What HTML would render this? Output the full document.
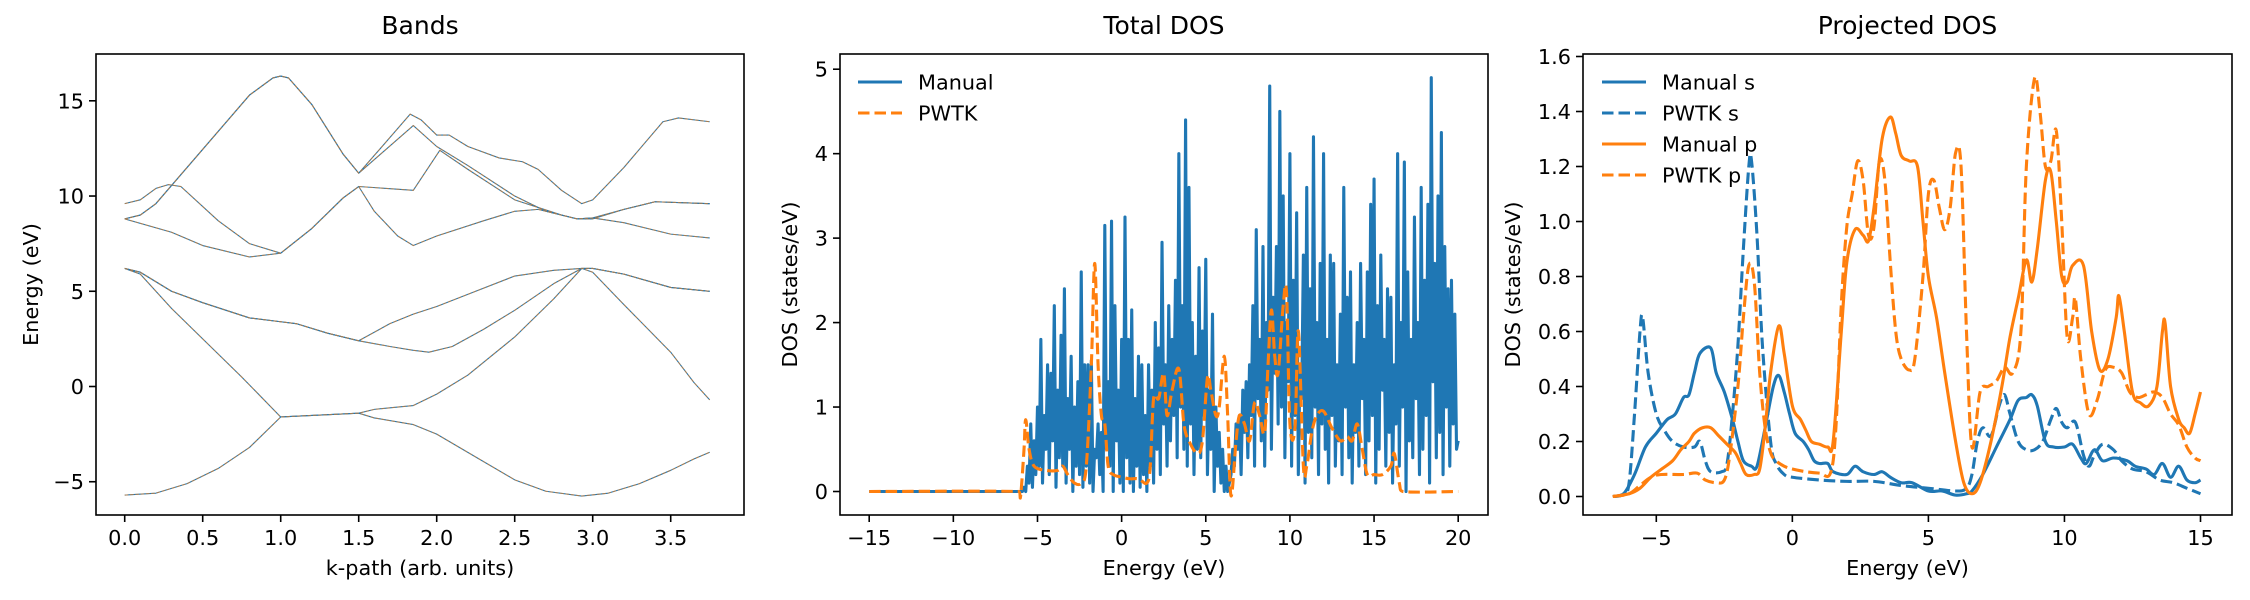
<!DOCTYPE html>
<html><head><meta charset="utf-8"><style>
body{margin:0;background:#fff;}
svg{display:block;font-family:"DejaVu Sans","Liberation Sans",sans-serif;}
</style></head><body>
<svg id="fig" width="2250" height="600" viewBox="0 0 2250 600" xmlns="http://www.w3.org/2000/svg"></svg>
<script>
// ---------- Band structure data ----------
const bandK1=[0,0.2,0.4,0.6,0.8,0.95,1.0,1.5,1.6,1.85,2.0,2.25,2.5,2.7,2.93,3.1,3.3,3.5,3.65,3.75];
const bandE1=[-5.7,-5.6,-5.1,-4.3,-3.2,-2.0,-1.6,-1.4,-1.65,-2.0,-2.5,-3.7,-4.9,-5.5,-5.75,-5.6,-5.1,-4.4,-3.8,-3.45];
const bandK2=[0,0.1,0.3,0.5,0.75,1.0,1.5,1.6,1.85,2.0,2.2,2.5,2.75,2.93,3.0,3.2,3.5,3.65,3.75];
const bandE2=[6.2,5.9,4.1,2.5,0.5,-1.6,-1.4,-1.2,-1.0,-0.4,0.6,2.6,4.6,6.2,6.0,4.3,1.8,0.2,-0.7];
const bandK3=[0,0.1,0.3,0.5,0.8,1.0,1.1,1.3,1.5,1.7,1.85,1.95,2.1,2.3,2.5,2.75,2.93,3.0,3.2,3.5,3.75];
const bandE3=[6.2,6.0,5.0,4.4,3.6,3.4,3.3,2.8,2.4,2.1,1.9,1.8,2.1,3.0,4.0,5.4,6.2,6.2,5.9,5.2,5.0];
const bandK4=[0,0.1,0.3,0.5,0.8,1.0,1.1,1.3,1.5,1.7,1.85,2.0,2.25,2.5,2.75,2.93,3.0,3.2,3.5,3.75];
const bandE4=[6.2,6.0,5.0,4.4,3.6,3.4,3.3,2.8,2.4,3.3,3.8,4.2,5.0,5.8,6.1,6.2,6.2,5.9,5.2,5.0];
const bandK5=[0,0.1,0.2,0.8,0.95,1.0,1.05,1.2,1.4,1.5,1.65,1.83,1.9,2.0,2.08,2.2,2.4,2.55,2.65,2.8,2.93,3.0,3.2,3.45,3.55,3.75];
const bandE5=[8.8,9.0,9.6,15.3,16.2,16.3,16.2,14.8,12.2,11.2,12.6,14.3,14.0,13.2,13.2,12.6,12.0,11.8,11.4,10.3,9.6,9.8,11.5,13.9,14.1,13.9];
const bandK6=[0,0.1,0.2,0.8,0.95,1.0,1.05,1.2,1.4,1.5,1.85,2.0,2.2,2.5,2.7,2.9,3.0,3.2,3.4,3.75];
const bandE6=[8.8,9.0,9.6,15.3,16.2,16.3,16.2,14.8,12.2,11.2,13.7,12.6,11.6,10.0,9.2,8.8,8.8,9.3,9.7,9.6];
const bandK7=[0,0.1,0.2,0.28,0.36,0.6,0.8,1.0,1.2,1.4,1.5,1.85,2.02,2.2,2.5,2.8,2.9,3.0,3.2,3.5,3.75];
const bandE7=[9.6,9.8,10.4,10.6,10.5,8.7,7.5,7.0,8.3,9.9,10.5,10.3,12.4,11.4,9.8,9.0,8.8,8.85,8.6,8.0,7.8];
const bandK8=[0,0.3,0.5,0.8,1.0,1.2,1.4,1.5,1.6,1.75,1.85,2.0,2.3,2.5,2.65,2.9,3.0,3.2,3.4,3.75];
const bandE8=[8.8,8.1,7.4,6.8,7.0,8.3,9.9,10.5,9.2,7.9,7.4,7.9,8.7,9.2,9.3,8.8,8.85,9.3,9.7,9.6];
const bandsK=[bandK1,bandK2,bandK3,bandK4,bandK5,bandK6,bandK7,bandK8];
const bandsE=[bandE1,bandE2,bandE3,bandE4,bandE5,bandE6,bandE7,bandE8];
const bandXTicks=[0,0.5,1.0,1.5,2.0,2.5,3.0,3.5];
const bandYTicks=[-5,0,5,10,15];

// ---------- Total DOS data ----------
const dosStart=-6.0, dosStep=0.2;
const dosHi=[0,0.05,0.3,0.8,0.6,1.0,1.8,0.9,1.5,1.4,2.2,1.2,1.85,2.4,1.1,1.6,1.0,1.3,2.6,1.5,1.5,1.55,0.5,0.8,0.7,3.15,1.3,3.2,2.2,1.2,1.8,3.25,1.8,2.15,1.1,1.6,1.5,0.9,1.5,1.2,2.0,1.7,2.95,1.5,2.2,1.8,2.5,4.0,2.2,4.4,3.6,2.0,1.6,2.65,1.9,2.75,1.2,2.1,1.0,0.7,0.5,0.3,0.1,0.5,0.8,0.9,1.2,1.3,1.5,2.2,3.1,1.8,2.9,2.0,4.8,2.3,2.9,4.5,3.5,2.0,4.0,2.5,3.3,1.5,2.8,3.6,2.4,4.2,2.0,2.7,4.0,1.8,2.8,2.7,1.5,2.1,3.6,2.3,2.6,1.5,2.0,2.7,1.8,2.6,3.4,3.7,2.2,2.8,1.8,2.4,2.3,1.5,4.0,2.0,3.9,2.6,1.8,3.25,2.0,3.6,2.5,3.4,4.9,2.7,3.5,4.25,2.9,2.4,2.5,2.1,0.6];
const dosLo=[0,0,0.1,0.05,0.2,
0.3,0.1,0.5,0.2,0.6,0.05,0.4,0.3,0.1,0.5,0.0,0.3,0.2,0.05,0.3,
0.1,0.0,0.4,0.2,0.0,0.5,0.3,0.0,0.6,0.1,
0.0,0.4,0.1,0.0,0.3,0.05,0.2,0.0,0.3,0.1,
0.5,0.2,0.8,0.3,0.6,0.9,0.4,1.0,0.5,0.3,0.8,0.2,0.5,0.4,0.9,
0.2,0.5,0.0,0.3,0.1,0.0,0.0,0.2,0.3,0.5,
0.2,0.7,0.4,0.9,0.3,1.1,0.6,0.3,1.2,0.5,1.4,0.8,1.0,0.4,1.3,
0.3,0.9,0.2,1.1,0.1,0.7,0.4,1.0,0.2,0.8,0.5,0.1,0.9,0.3,0.6,
0.2,1.0,0.4,0.1,0.7,0.3,1.1,0.2,0.6,0.9,0.1,0.5,1.2,0.3,0.7,
0.1,0.8,0.3,1.0,0.0,0.6,0.4,1.1,0.2,0.5,0.9,0.1,1.3,0.4,0.7,0.2,1.0,0.3,0.8,0.5];
const pwtkE=[-15,-6.1,-6.0,-5.8,-5.7,-5.5,-5.2,-4.5,-3.8,-3.5,-3.2,-2.8,-2.4,-2.1,-1.8,-1.6,-1.4,-1.2,-1.0,-0.8,-0.5,0,0.5,1.0,1.5,1.7,1.9,2.2,2.5,2.7,3.0,3.4,3.7,4.0,4.5,4.8,5.1,5.3,5.6,5.8,6.1,6.3,6.5,6.8,7.0,7.3,7.6,7.9,8.2,8.5,8.7,8.9,9.1,9.3,9.6,9.8,10.0,10.3,10.5,10.8,11.0,11.3,11.6,12.0,12.5,13.0,13.4,13.7,14.0,14.3,14.6,15.0,15.5,16.0,16.2,16.5,16.7,20];
const pwtkD=[0,0,-0.05,0.5,0.85,0.5,0.3,0.25,0.25,0.3,0.2,0.1,0.1,0.3,1.5,2.7,1.5,0.9,0.8,0.3,0.2,0.17,0.15,0.15,0.1,0.3,1.1,1.1,1.4,0.9,1.2,1.45,0.8,0.6,0.45,0.6,1.35,1.2,0.9,1.0,1.6,0.9,-0.05,0.6,0.9,0.8,0.6,1.05,0.9,0.7,1.5,2.15,1.6,1.4,2.2,2.35,0.8,0.75,1.9,0.3,0.3,0.7,0.9,0.95,0.75,0.6,0.65,0.6,0.8,0.5,0.2,0.2,0.2,0.3,0.45,0.1,0,0];
const dosXTicks=[-15,-10,-5,0,5,10,15,20];
const dosYTicks=[0,1,2,3,4,5];

// ---------- Projected DOS data ----------
const msE=[-6.6,-6.2,-5.8,-5.4,-5.0,-4.6,-4.3,-4.0,-3.8,-3.6,-3.4,-3.0,-2.8,-2.5,-2.2,-2.0,-1.8,-1.5,-1.3,-1.0,-0.7,-0.5,-0.3,-0.1,0.1,0.4,0.6,0.8,1.0,1.3,1.5,2.0,2.3,2.6,3.0,3.3,3.6,4.0,4.4,5.0,5.5,6.0,6.4,6.6,7.0,7.5,8.0,8.3,8.6,8.8,9.0,9.3,9.6,10.0,10.3,10.6,10.8,11.1,11.4,11.8,12.3,12.6,13.0,13.3,13.6,13.9,14.2,14.5,14.8,15.0];
const msD=[0,0.01,0.08,0.18,0.23,0.28,0.3,0.36,0.37,0.45,0.52,0.54,0.45,0.38,0.28,0.2,0.13,0.11,0.11,0.25,0.4,0.44,0.38,0.3,0.23,0.2,0.17,0.13,0.12,0.12,0.09,0.08,0.11,0.09,0.08,0.09,0.07,0.05,0.05,0.02,0.02,0.005,0.01,0.02,0.08,0.18,0.28,0.35,0.36,0.37,0.33,0.2,0.18,0.18,0.19,0.14,0.12,0.17,0.13,0.14,0.13,0.11,0.1,0.08,0.12,0.07,0.11,0.06,0.05,0.06];
const psE=[-6.6,-6.2,-6.0,-5.8,-5.6,-5.5,-5.3,-5.0,-4.7,-4.4,-4.0,-3.6,-3.4,-3.2,-3.0,-2.6,-2.4,-2.2,-2.0,-1.8,-1.6,-1.5,-1.3,-1.1,-0.8,-0.6,-0.3,0,1,2,3,4,5,6,6.4,6.6,6.8,7.0,7.3,7.6,7.8,8.0,8.3,8.6,8.9,9.2,9.5,9.7,9.9,10.1,10.4,10.7,10.9,11.1,11.4,11.8,12.1,12.5,13.0,13.5,14.0,14.5,15.0];
const psD=[0,0.01,0.05,0.3,0.6,0.65,0.45,0.3,0.24,0.2,0.18,0.18,0.2,0.13,0.09,0.09,0.12,0.3,0.55,0.9,1.2,1.22,0.95,0.55,0.2,0.12,0.08,0.07,0.06,0.055,0.055,0.04,0.03,0.02,0.03,0.08,0.2,0.25,0.22,0.33,0.37,0.3,0.2,0.17,0.17,0.2,0.28,0.32,0.27,0.25,0.27,0.15,0.11,0.15,0.19,0.17,0.13,0.1,0.09,0.06,0.05,0.03,0.01];
const mpE=[-6.6,-6.0,-5.6,-5.2,-4.8,-4.4,-4.1,-3.8,-3.6,-3.3,-3.0,-2.7,-2.4,-2.1,-1.9,-1.7,-1.4,-1.2,-1.0,-0.8,-0.5,-0.3,0,0.3,0.5,0.7,1.0,1.3,1.5,1.8,2.0,2.3,2.6,2.8,3.0,3.3,3.6,3.8,4.0,4.3,4.6,4.8,5.0,5.3,5.6,6.0,6.3,6.6,6.9,7.3,7.7,8.0,8.3,8.6,8.8,9.0,9.3,9.5,9.7,9.9,10.1,10.3,10.7,11.0,11.3,11.6,11.9,12.0,12.2,12.5,12.8,13.1,13.4,13.6,13.7,13.9,14.2,14.4,14.6,14.8,15.0];
const mpD=[0,0.01,0.03,0.07,0.1,0.13,0.17,0.2,0.23,0.25,0.25,0.22,0.19,0.16,0.12,0.08,0.08,0.1,0.25,0.45,0.62,0.52,0.33,0.28,0.24,0.2,0.19,0.18,0.2,0.6,0.85,0.97,0.95,0.93,1.05,1.3,1.38,1.32,1.24,1.22,1.2,1.0,0.8,0.65,0.45,0.2,0.05,0.01,0.05,0.2,0.4,0.58,0.72,0.86,0.78,0.9,1.15,1.18,1.0,0.8,0.78,0.84,0.84,0.6,0.46,0.5,0.65,0.73,0.6,0.38,0.34,0.33,0.4,0.6,0.63,0.4,0.28,0.25,0.23,0.3,0.38];
const ppE=[-6.6,-6.0,-5.6,-5.2,-4.8,-4.0,-3.5,-3.2,-2.8,-2.5,-2.3,-2.0,-1.8,-1.6,-1.4,-1.2,-1.0,-0.8,-0.6,-0.3,0,0.5,1.0,1.4,1.6,1.8,2.0,2.2,2.4,2.6,2.8,3.0,3.2,3.4,3.6,3.8,4.0,4.3,4.5,4.8,5.0,5.2,5.4,5.6,5.8,6.0,6.2,6.4,6.6,6.9,7.2,7.5,7.8,8.1,8.4,8.6,8.9,9.1,9.3,9.5,9.7,9.9,10.1,10.3,10.4,10.6,10.9,11.2,11.5,11.8,12.1,12.4,12.7,13.0,13.3,13.6,13.9,14.2,14.5,14.8,15.0];
const ppD=[0,0.01,0.04,0.07,0.08,0.08,0.085,0.06,0.05,0.06,0.15,0.4,0.65,0.84,0.78,0.45,0.25,0.16,0.13,0.11,0.1,0.09,0.085,0.085,0.25,0.7,0.98,1.1,1.22,1.15,0.95,0.98,1.22,1.15,0.85,0.6,0.5,0.46,0.5,0.8,1.1,1.15,1.05,0.97,1.05,1.25,1.2,0.6,0.18,0.38,0.4,0.42,0.47,0.45,0.6,1.2,1.52,1.4,1.2,1.22,1.33,1.0,0.58,0.65,0.72,0.5,0.3,0.35,0.46,0.47,0.45,0.38,0.36,0.37,0.38,0.36,0.3,0.26,0.18,0.14,0.13];
const pdosXTicks=[-5,0,5,10,15];
const pdosYTicks=[0.0,0.2,0.4,0.6,0.8,1.0,1.2,1.4,1.6];

// ---------- rendering ----------
const NS="http://www.w3.org/2000/svg";
const svg=document.getElementById('fig');
const BLUE="#1f77b4", ORANGE="#ff7f0e";
function el(tag,attrs,parent){const e=document.createElementNS(NS,tag);for(const k in attrs)e.setAttribute(k,attrs[k]);(parent||svg).appendChild(e);return e;}
function lin(d0,d1,r0,r1){return v=>r0+(v-d0)*(r1-r0)/(d1-d0);}
function linePath(px,py){return "M"+px.map((x,i)=>x.toFixed(2)+","+py[i].toFixed(2)).join(" L");}
function smoothPath(px,py){
  let d="M"+px[0].toFixed(2)+","+py[0].toFixed(2);
  for(let i=0;i<px.length-1;i++){
    const x0=px[Math.max(i-1,0)],y0=py[Math.max(i-1,0)],x1=px[i],y1=py[i],x2=px[i+1],y2=py[i+1],x3=px[Math.min(i+2,px.length-1)],y3=py[Math.min(i+2,px.length-1)];
    let c1x=x1+(x2-x0)/6,c1y=y1+(y2-y0)/6,c2x=x2-(x3-x1)/6,c2y=y2-(y3-y1)/6;
    c1x=Math.min(Math.max(c1x,x1),x2);c2x=Math.min(Math.max(c2x,x1),x2);
    d+=" C"+c1x.toFixed(2)+","+c1y.toFixed(2)+" "+c2x.toFixed(2)+","+c2y.toFixed(2)+" "+x2.toFixed(2)+","+y2.toFixed(2);
  }
  return d;
}
function axesFrame(p){
  const g=el('g',{});
  
  
  const t=el('text',{x:(p.L+p.R)/2,y:p.T-20,'text-anchor':'middle','font-size':25,fill:'#000'},g);
  t.textContent=p.title;
  
  
  p.xt.forEach(v=>{const x=p.sx(v);
    el('line',{x1:x,x2:x,y1:p.B,y2:p.B+7,stroke:'#000','stroke-width':1.6},g);
    const tx=el('text',{x:x,y:p.B+30,'text-anchor':'middle','font-size':20.8,fill:'#000'},g);
    tx.textContent=p.xf(v).replace('-','\u2212');
    
    });
  p.yt.forEach(v=>{const y=p.sy(v);
    el('line',{x1:p.L-7,x2:p.L,y1:y,y2:y,stroke:'#000','stroke-width':1.6},g);
    const ty=el('text',{x:p.L-12,y:y+7.5,'text-anchor':'end','font-size':20.8,fill:'#000'},g);
    ty.textContent=p.yf(v).replace('-','\u2212');
    
    });
  const xl=el('text',{x:(p.L+p.R)/2,y:p.B+60,'text-anchor':'middle','font-size':20.8,fill:'#000'},g);
  xl.textContent=p.xlab;
  
  
  const yl=el('text',{x:0,y:0,'text-anchor':'middle','font-size':20.8,fill:'#000',transform:`translate(${p.ylx},${(p.T+p.B)/2}) rotate(-90)`},g);
  yl.textContent=p.ylab;
  
  
  return g;
}
function frameRect(p){const r=el('rect',{x:p.L,y:p.T,width:p.R-p.L,height:p.B-p.T,fill:'none',stroke:'#000','stroke-width':1.6});
  
  }
function clip(id,p){const c=el('clipPath',{id:id});el('rect',{x:p.L,y:p.T,width:p.R-p.L,height:p.B-p.T},c);}
function legend(items,x0,y0,tx){
  items.forEach((it,i)=>{const y=y0+i*31;
    const g=el('g',{});
    
    
    const l=el('line',{x1:x0,x2:x0+44,y1:y,y2:y,stroke:it.c,'stroke-width':3.1},g);
    if(it.dash)l.setAttribute('stroke-dasharray','11.5,5');
    const t=el('text',{x:tx,y:y+7.5,'font-size':20.8,fill:'#000'},g);t.textContent=it.t;});
}

// Panel 1: Bands
const p1={name:'bands-panel',L:96,R:744,T:54,B:515,title:'Bands',xlab:'k-path (arb. units)',ylab:'Energy (eV)',ylx:38,
  sx:lin(0,3.5,124.7,670.7),sy:lin(0,15,386.5,100.8),xt:bandXTicks,yt:bandYTicks,xf:v=>v.toFixed(1),yf:v=>String(v)};
axesFrame(p1);clip('c1',p1);
bandsK.forEach((ks,bi)=>{
  const px=ks.map(p1.sx),py=bandsE[bi].map(p1.sy);
  const a=el('path',{d:linePath(px,py),fill:'none',stroke:BLUE,'stroke-width':1.1,'stroke-linejoin':'round','clip-path':'url(#c1)'});
  
  
  const b=el('path',{d:linePath(px,py),fill:'none',stroke:ORANGE,'stroke-width':1.0,'stroke-dasharray':'3.7,1.6','stroke-opacity':0.6,'clip-path':'url(#c1)'});
  
  
});
frameRect(p1);

// Panel 2: Total DOS
const p2={name:'total-dos-panel',L:840,R:1488,T:54,B:515,title:'Total DOS',xlab:'Energy (eV)',ylab:'DOS (states/eV)',ylx:797,
  sx:lin(-15,20,869.2,1458.2),sy:lin(0,5,491.5,69.2),xt:dosXTicks,yt:dosYTicks,xf:v=>String(v),yf:v=>String(v)};
axesFrame(p2);clip('c2',p2);
(function(){
  let pts=[[p2.sx(-15),p2.sy(0)],[p2.sx(-6.05),p2.sy(0)]];
  for(let i=0;i<dosHi.length;i++){
    const e=dosStart+i*dosStep;
    pts.push([p2.sx(e),p2.sy(dosHi[i])]);
    if(i<dosLo.length)pts.push([p2.sx(e+dosStep/2),p2.sy(dosLo[i])]);
  }
  const m=el('polyline',{points:pts.map(p=>p[0].toFixed(2)+','+p[1].toFixed(2)).join(' '),fill:'none',stroke:BLUE,'stroke-width':3.1,'stroke-linejoin':'round','clip-path':'url(#c2)'});
  
  
  const pw=el('path',{d:smoothPath(pwtkE.map(p2.sx),pwtkD.map(p2.sy)),fill:'none',stroke:ORANGE,'stroke-width':3.1,'stroke-dasharray':'11.5,5','clip-path':'url(#c2)'});
  
  
})();
frameRect(p2);
legend([{t:'Manual',c:BLUE},{t:'PWTK',c:ORANGE,dash:true}],858,82,918);

// Panel 3: Projected DOS
const p3={name:'projected-dos-panel',L:1583,R:2232,T:54,B:515,title:'Projected DOS',xlab:'Energy (eV)',ylab:'DOS (states/eV)',ylx:1520,
  sx:lin(-5,15,1656.3,2200.5),sy:lin(0,1.6,496.5,56.5),xt:pdosXTicks,yt:pdosYTicks,xf:v=>String(v),yf:v=>v.toFixed(1)};
axesFrame(p3);clip('c3',p3);
[[msE,msD,BLUE,false,'manual-s-line'],[psE,psD,BLUE,true,'pwtk-s-line'],[mpE,mpD,ORANGE,false,'manual-p-line'],[ppE,ppD,ORANGE,true,'pwtk-p-line']].forEach(s=>{
  const p=el('path',{d:smoothPath(s[0].map(p3.sx),s[1].map(p3.sy)),fill:'none',stroke:s[2],'stroke-width':3.1,'clip-path':'url(#c3)'});
  if(s[3])p.setAttribute('stroke-dasharray','11.5,5');
  
  
});
frameRect(p3);
legend([{t:'Manual s',c:BLUE},{t:'PWTK s',c:BLUE,dash:true},{t:'Manual p',c:ORANGE},{t:'PWTK p',c:ORANGE,dash:true}],1602,82,1662);
</script>
</body></html>
